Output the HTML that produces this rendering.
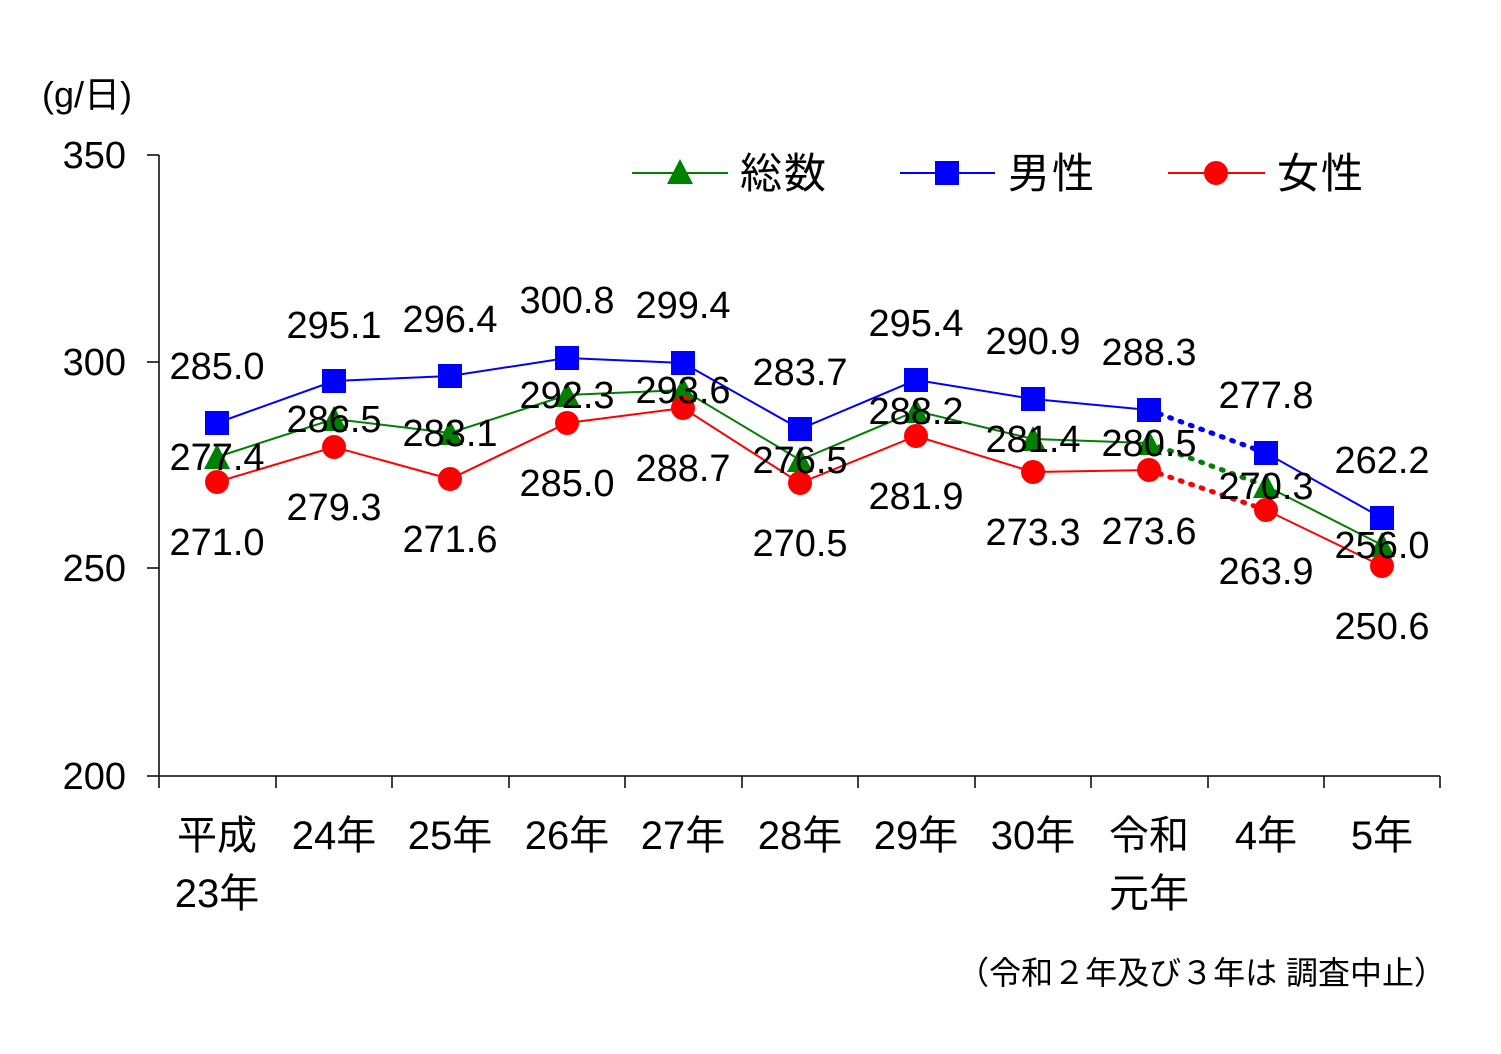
<!DOCTYPE html>
<html><head><meta charset="utf-8"><style>
html,body{margin:0;padding:0;background:#fff;}
svg{display:block;font-family:"Liberation Sans","Noto Sans CJK JP",sans-serif;}
</style></head><body>
<svg width="1501" height="1054" viewBox="0 0 1501 1054" xmlns="http://www.w3.org/2000/svg">
<rect width="1501" height="1054" fill="#fff"/>
<g stroke="#000" stroke-width="1.5" fill="none">
<line x1="159" y1="155" x2="159" y2="776"/>
<line x1="159" y1="776" x2="1440" y2="776"/>
<line x1="147" y1="155" x2="159" y2="155"/>
<line x1="147" y1="362" x2="159" y2="362"/>
<line x1="147" y1="568" x2="159" y2="568"/>
<line x1="147" y1="776" x2="159" y2="776"/>
<path d="M159 776v12M276 776v12M392 776v12M509 776v12M625 776v12M742 776v12M858 776v12M975 776v12M1091 776v12M1208 776v12M1324 776v12M1440 776v12"/>
</g>
<g font-size="38" text-anchor="end" fill="#000">
<text x="126" y="168">350</text><text x="126" y="375">300</text><text x="126" y="581">250</text><text x="126" y="789">200</text>
</g>
<text x="42" y="107" font-size="36">(g/日)</text>
<g font-size="40" text-anchor="middle" fill="#000">
<text x="217" y="849">平成</text><text x="217" y="907">23年</text>
<text x="334" y="849">24年</text><text x="450" y="849">25年</text><text x="567" y="849">26年</text>
<text x="683" y="849">27年</text><text x="800" y="849">28年</text><text x="916" y="849">29年</text>
<text x="1033" y="849">30年</text><text x="1149" y="849">令和</text><text x="1149" y="907">元年</text>
<text x="1266" y="849">4年</text><text x="1382" y="849">5年</text>
</g>
<text x="1446" y="984" font-size="32" text-anchor="end">（令和２年及び３年は 調査中止）</text>
<!-- legend -->
<line x1="632" y1="173" x2="728" y2="173" stroke="#008000" stroke-width="2"/>
<polygon points="680,159 693,184 667,184" fill="#008000"/>
<text x="740" y="188" font-size="42" letter-spacing="2">総数</text>
<line x1="900" y1="173" x2="995" y2="173" stroke="#0000ff" stroke-width="2"/>
<rect x="935" y="161" width="24" height="24" fill="#0000ff"/>
<text x="1008" y="188" font-size="42" letter-spacing="2">男性</text>
<line x1="1168" y1="173" x2="1265" y2="173" stroke="#ff0000" stroke-width="2"/>
<circle cx="1216" cy="173" r="12" fill="#ff0000"/>
<text x="1277" y="188" font-size="42" letter-spacing="2">女性</text>
<!-- series lines -->
<polyline fill="none" stroke="#008000" stroke-width="2" points="217,457 334,419 450,433 567,395 683,390 800,460 916,411 1033,439 1149,443"/>
<polyline fill="none" stroke="#0000ff" stroke-width="2" points="217,423 334,381 450,376 567,358 683,363 800,429 916,380 1033,399 1149,410"/>
<polyline fill="none" stroke="#ff0000" stroke-width="2" points="217,482 334,447 450,479 567,423 683,408 800,483 916,436 1033,472 1149,470"/>
<line x1="1149" y1="443" x2="1266" y2="486" stroke="#008000" stroke-width="5" stroke-dasharray="2 9" stroke-linecap="round"/>
<line x1="1149" y1="410" x2="1266" y2="453" stroke="#0000ff" stroke-width="5" stroke-dasharray="2 9" stroke-linecap="round"/>
<line x1="1149" y1="470" x2="1266" y2="510" stroke="#ff0000" stroke-width="5" stroke-dasharray="2 9" stroke-linecap="round"/>
<polyline fill="none" stroke="#008000" stroke-width="2" points="1266,486 1382,545"/>
<polyline fill="none" stroke="#0000ff" stroke-width="2" points="1266,453 1382,518"/>
<polyline fill="none" stroke="#ff0000" stroke-width="2" points="1266,510 1382,566"/>
<!-- markers -->
<g fill="#008000">
<polygon points="217,444 230,469 204,469"/><polygon points="334,406 347,431 321,431"/><polygon points="450,420 463,445 437,445"/>
<polygon points="567,382 580,407 554,407"/><polygon points="683,377 696,402 670,402"/><polygon points="800,447 813,472 787,472"/>
<polygon points="916,398 929,423 903,423"/><polygon points="1033,426 1046,451 1020,451"/><polygon points="1149,430 1162,455 1136,455"/>
<polygon points="1266,473 1279,498 1253,498"/><polygon points="1382,532 1395,557 1369,557"/>
</g>
<g fill="#0000ff">
<rect x="205" y="411" width="24" height="24"/><rect x="322" y="369" width="24" height="24"/><rect x="438" y="364" width="24" height="24"/>
<rect x="555" y="346" width="24" height="24"/><rect x="671" y="351" width="24" height="24"/><rect x="788" y="417" width="24" height="24"/>
<rect x="904" y="368" width="24" height="24"/><rect x="1021" y="387" width="24" height="24"/><rect x="1137" y="398" width="24" height="24"/>
<rect x="1254" y="441" width="24" height="24"/><rect x="1370" y="506" width="24" height="24"/>
</g>
<g fill="#ff0000">
<circle cx="217" cy="482" r="12"/><circle cx="334" cy="447" r="12"/><circle cx="450" cy="479" r="12"/>
<circle cx="567" cy="423" r="12"/><circle cx="683" cy="408" r="12"/><circle cx="800" cy="483" r="12"/>
<circle cx="916" cy="436" r="12"/><circle cx="1033" cy="472" r="12"/><circle cx="1149" cy="470" r="12"/>
<circle cx="1266" cy="510" r="12"/><circle cx="1382" cy="566" r="12"/>
</g>
<!-- data labels -->
<g font-size="38" text-anchor="middle" fill="#000">
<text x="217" y="379">285.0</text><text x="334" y="338">295.1</text><text x="450" y="332">296.4</text>
<text x="567" y="313">300.8</text><text x="683" y="318">299.4</text><text x="800" y="385">283.7</text>
<text x="916" y="336">295.4</text><text x="1033" y="354">290.9</text><text x="1149" y="365">288.3</text>
<text x="1266" y="408">277.8</text><text x="1382" y="473">262.2</text>

<text x="217" y="470">277.4</text><text x="334" y="432">286.5</text><text x="450" y="446">283.1</text>
<text x="567" y="408">292.3</text><text x="683" y="403">293.6</text><text x="800" y="473">276.5</text>
<text x="916" y="424">288.2</text><text x="1033" y="452">281.4</text><text x="1149" y="456">280.5</text>
<text x="1266" y="499">270.3</text><text x="1382" y="558">256.0</text>

<text x="217" y="555">271.0</text><text x="334" y="520">279.3</text><text x="450" y="552">271.6</text>
<text x="567" y="496">285.0</text><text x="683" y="481">288.7</text><text x="800" y="556">270.5</text>
<text x="916" y="509">281.9</text><text x="1033" y="545">273.3</text><text x="1149" y="544">273.6</text>
<text x="1266" y="584">263.9</text><text x="1382" y="639">250.6</text>
</g>
</svg>
</body></html>
